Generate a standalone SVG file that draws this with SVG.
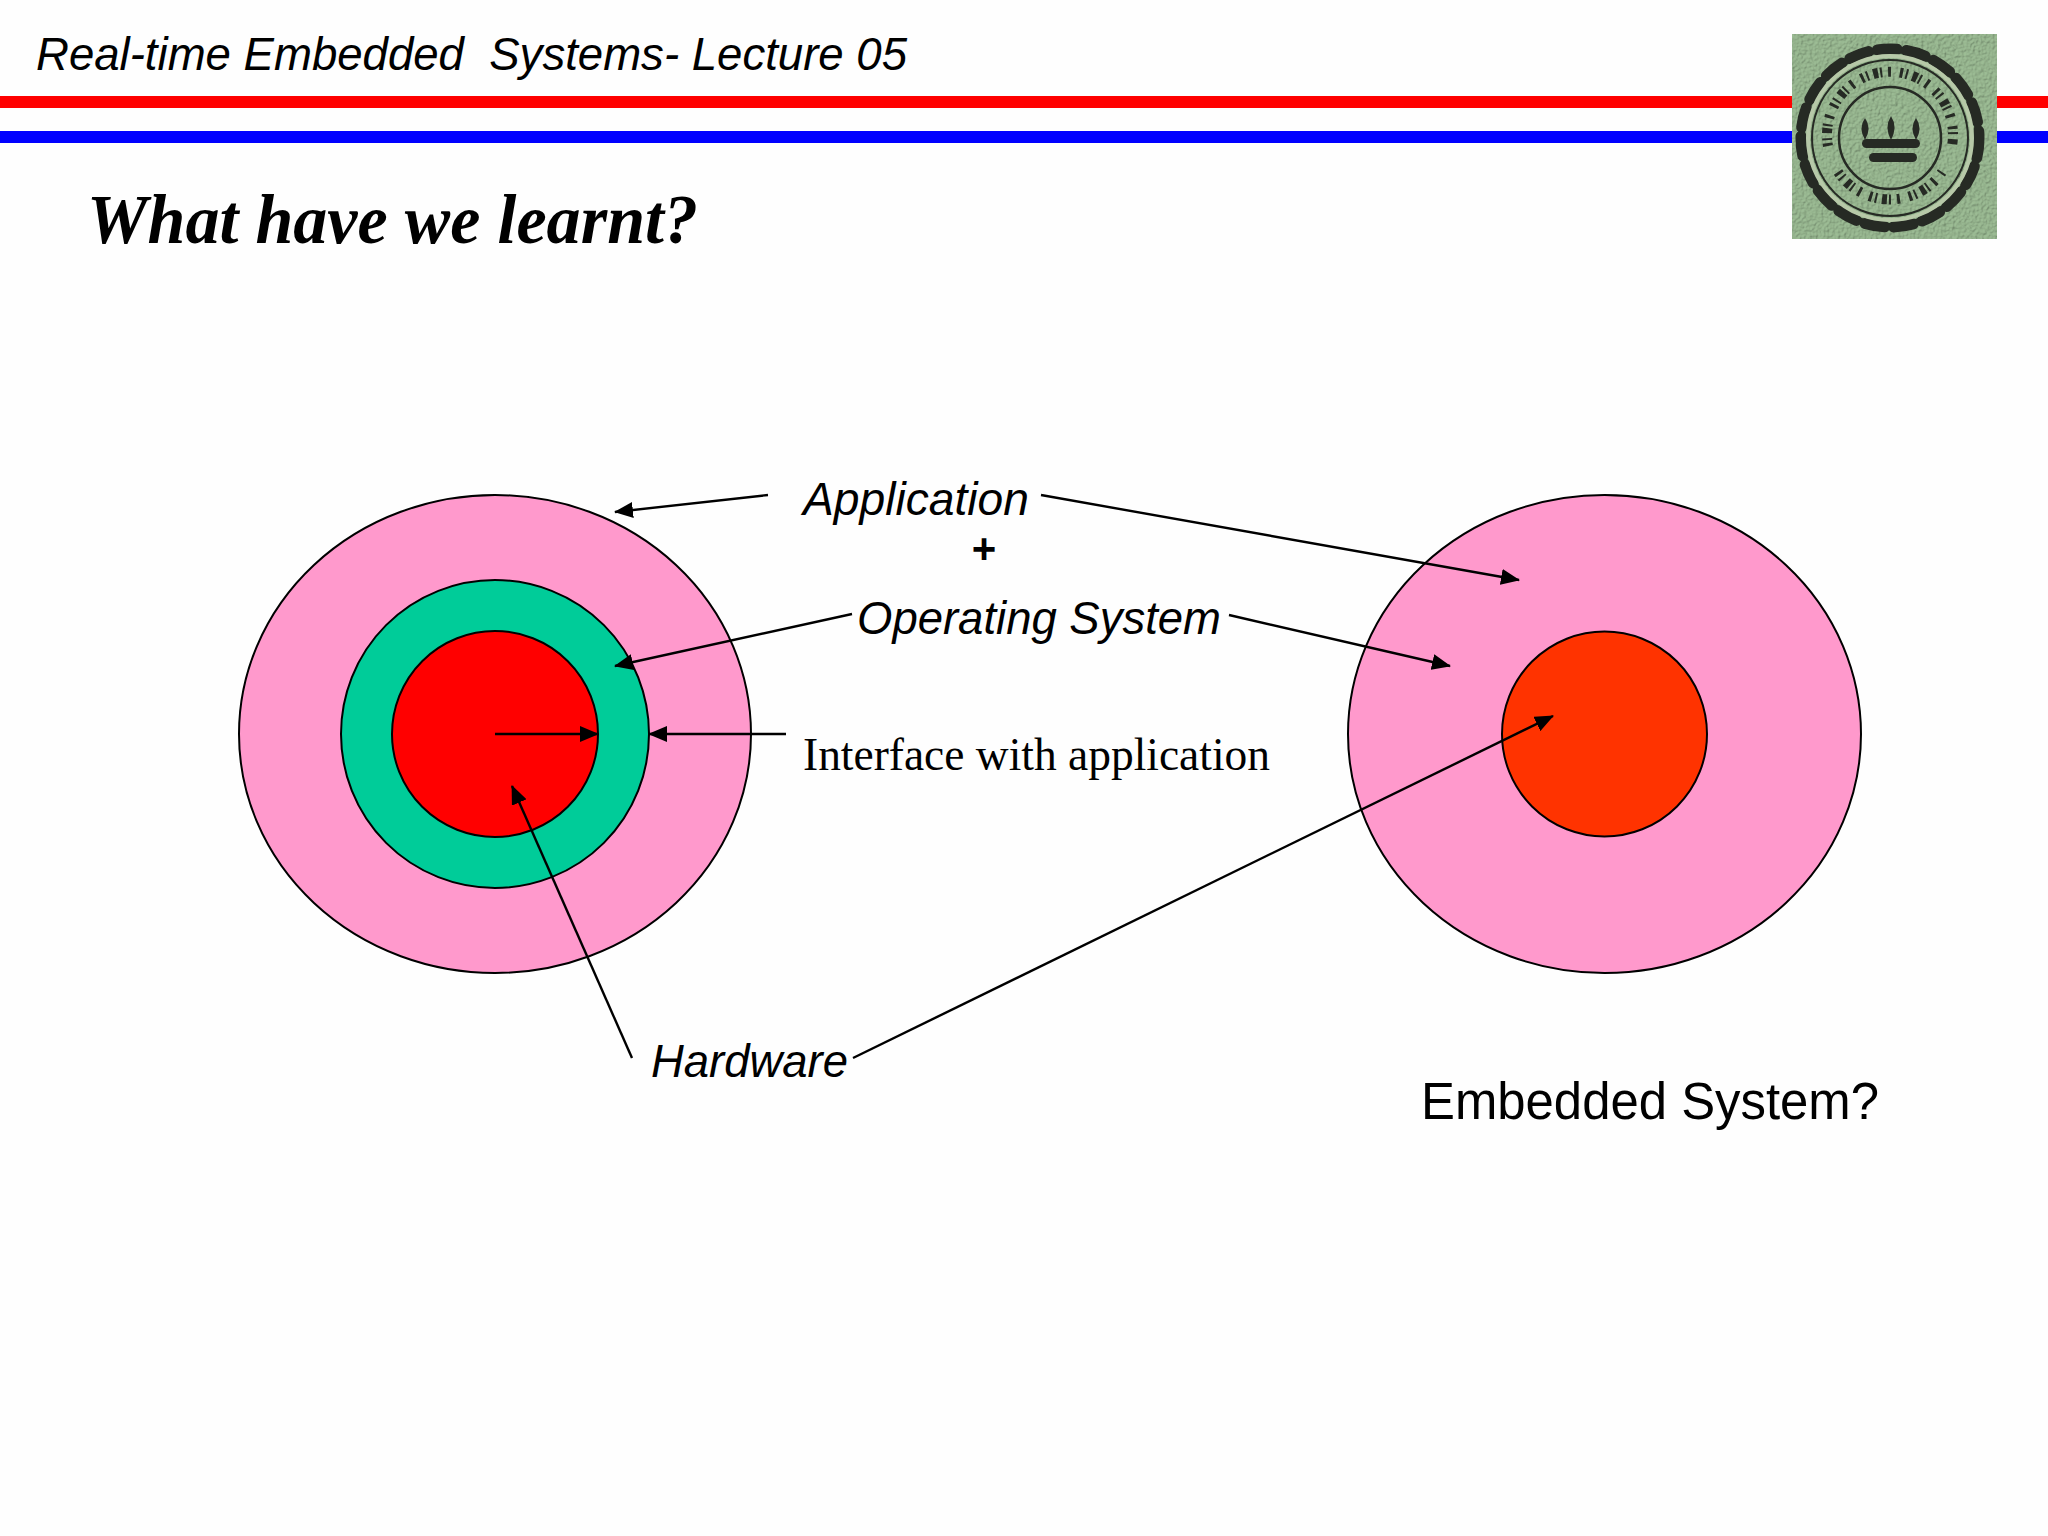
<svg xmlns="http://www.w3.org/2000/svg" width="2048" height="1536" viewBox="0 0 2048 1536">
<defs>
<style>
.lbl{font-family:"Liberation Sans",Arial,sans-serif;font-style:italic;font-size:47px;fill:#000}
.serif{font-family:"Liberation Serif","Times New Roman",serif;fill:#000}
.shape{stroke:#000;stroke-width:2}
.conn line{stroke:#000;stroke-width:2.4;marker-end:url(#ah)}
.ink{fill:none;stroke:#262a24}
</style>
<marker id="ah" markerUnits="userSpaceOnUse" markerWidth="19" markerHeight="16" refX="18" refY="8" orient="auto"><path d="M0 0L19 8L0 16Z" fill="#000"/></marker>
<filter id="tex" x="0" y="0" width="100%" height="100%"><feTurbulence type="fractalNoise" baseFrequency="0.35" numOctaves="2" seed="4" result="n"/><feDiffuseLighting in="n" surfaceScale="1.4" lighting-color="#9dbd95" result="l"><feDistantLight azimuth="45" elevation="62"/></feDiffuseLighting><feComposite in="l" in2="SourceGraphic" operator="in"/></filter>
</defs>
<rect width="2048" height="1536" fill="#fefefe"/>
<g id="header-rules"><rect x="0" y="96" width="2048" height="12" fill="#f00"/><rect x="0" y="131" width="2048" height="12" fill="#00f"/></g>
<g id="seal">
<rect x="1792" y="34" width="205" height="205" fill="#8dae85"/>
<rect x="1792" y="34" width="205" height="205" fill="#8dae85" filter="url(#tex)"/>
<circle class="ink" cx="1890" cy="138" r="88" stroke-width="6"/>
<circle class="ink" cx="1890" cy="138" r="89" stroke-width="11" stroke-dasharray="20 9" stroke-linecap="round"/>
<circle cx="1890" cy="138" r="82" fill="none" stroke="#b7c9a8" stroke-width="4"/>
<circle class="ink" cx="1890" cy="138" r="78" stroke-width="2"/>
<path class="ink" stroke-width="10" stroke-dasharray="3 3 2 5 5 2 2 6 3 9" d="M1828 146A63 63 0 1 1 1952 146"/>
<path class="ink" stroke-width="10" stroke-dasharray="3 3 2 5 5 2 2 6 3 9" d="M1838 172A63 63 0 0 0 1942 172"/>
<circle class="ink" cx="1890" cy="138" r="51" stroke-width="2.500"/>
<path d="M1865 118q7 10 0 22q-7-12 0-22zM1891 116q7 11 0 24q-7-13 0-24zM1916 118q7 10 0 22q-7-12 0-22z" fill="#262a24"/>
<rect x="1862" y="139" width="58" height="9" rx="4.500" fill="#262a24"/>
<rect x="1869" y="153" width="48" height="9" rx="4.500" fill="#262a24"/>
</g>
<g id="left-application"><ellipse class="shape" cx="495" cy="734" rx="256" ry="239" fill="#f9c"/></g>
<g id="left-os"><circle class="shape" cx="495" cy="734" r="154" fill="#0c9"/></g>
<g id="left-hardware"><circle class="shape" cx="495" cy="734" r="103" fill="#f00"/></g>
<g id="right-application"><ellipse class="shape" cx="1604.500" cy="734" rx="256.500" ry="239" fill="#f9c"/></g>
<g id="right-hardware"><circle class="shape" cx="1604.500" cy="734" r="102.500" fill="#f30"/></g>
<g id="connectors" class="conn">
<line x1="768" y1="495" x2="615" y2="512"/>
<line x1="852" y1="614" x2="615" y2="666"/>
<line x1="786" y1="734" x2="649" y2="734"/>
<line x1="495" y1="734" x2="598" y2="734"/>
<line x1="632" y1="1058" x2="512" y2="786"/>
<line x1="1041" y1="495" x2="1519" y2="580"/>
<line x1="1229" y1="615" x2="1450" y2="666"/>
<line x1="853" y1="1058" x2="1553" y2="716"/>
</g>
<g id="texts">
<text class="lbl" x="36" y="70" textLength="871" lengthAdjust="spacingAndGlyphs" xml:space="preserve">Real-time Embedded  Systems- Lecture 05</text>
<text class="serif" x="87" y="243" font-size="70" font-weight="bold" font-style="italic" textLength="611" lengthAdjust="spacingAndGlyphs">What have we learnt?</text>
<text class="lbl" x="803" y="515" textLength="226" lengthAdjust="spacingAndGlyphs">Application</text>
<text x="984" y="563" font-family="Liberation Sans,Arial,sans-serif" font-weight="bold" font-size="42" text-anchor="middle">+</text>
<text class="lbl" x="857" y="634" textLength="364" lengthAdjust="spacingAndGlyphs">Operating System</text>
<text class="serif" x="803" y="770" font-size="47" textLength="467" lengthAdjust="spacingAndGlyphs">Interface with application</text>
<text class="lbl" x="651" y="1077" textLength="197" lengthAdjust="spacingAndGlyphs">Hardware</text>
<text x="1421" y="1119" font-family="Liberation Sans,Arial,sans-serif" font-size="51" textLength="458" lengthAdjust="spacingAndGlyphs">Embedded System?</text>
</g>
</svg>
